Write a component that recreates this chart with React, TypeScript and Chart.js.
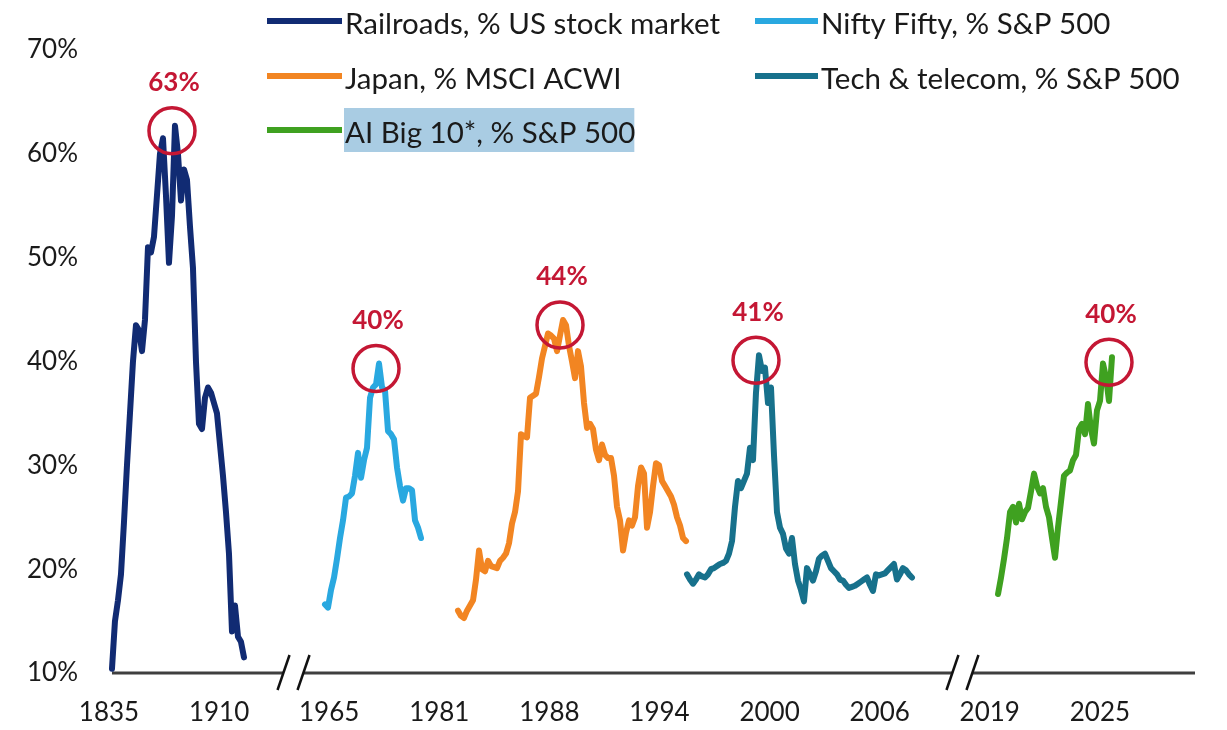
import React, { useEffect, useRef } from "react";
import { Chart, registerables } from "chart.js";

Chart.register(...registerables);

// ---- Data ----
const tickLabels = ["1835", "1910", "1965", "1981", "1988", "1994", "2000", "2006", "2019", "2025"];
const yTicks = [10, 20, 30, 40, 50, 60, 70];

const seriesNames = [
  "Railroads, % US stock market",
  "Nifty Fifty, % S&P 500",
  "Japan, % MSCI ACWI",
  "Tech & telecom, % S&P 500",
  "AI Big 10*, % S&P 500",
];
const seriesColors = ["#112B73", "#29A8E0", "#F28522", "#17718C", "#3FA120"];
const peakLabels = ["63%", "40%", "44%", "41%", "40%"];

const railroads = [
  10.4, 15.0, 17.0, 19.5, 24.5, 30, 35, 40, 43.5, 43, 41, 44, 51, 50.5, 52, 56, 60, 61.5, 56, 49.5,
  54, 62.7, 60, 55.5, 58.5, 57.5, 53, 49, 40, 34, 33.5, 36.5, 37.5, 37, 36, 35, 32, 29, 25.5, 21.5,
  14, 16.5, 13.5, 13, 11.5,
];
const niftyFifty = [
  16.6, 16.3, 18, 19.2, 21, 23, 24.7, 26.9, 27, 27.3, 29, 31.2, 28.8, 30.5, 31.7, 36.5, 37.5, 37.8,
  39.8, 37.5, 37.2, 33.3, 33, 32.5, 29.8, 28, 26.6, 27.8, 27.8, 27.6, 24.7, 24, 23,
];
const japan = [
  16, 15.5, 15.3, 16, 16.5, 17, 19, 21.8, 20, 19.8, 20.8, 20.3, 20.2, 20.1, 20.8, 21.1, 21.5, 22.5,
  24.4, 25.5, 27.5, 33, 32.8, 32.7, 36.5, 36.7, 36.9, 38.5, 40.3, 41.5, 42.7, 42.5, 42.2, 41, 42.5,
  44, 43.5, 41.5, 40, 38.4, 41, 39.5, 36, 33.6, 34, 33.5, 31.5, 30.5, 32, 31, 30.7, 30.7, 29, 26,
  24.7, 21.8, 23.5, 24.7, 24.2, 25, 28, 29.8, 29.2, 24, 25.5, 28, 30.2, 30, 28.5, 28, 27.5, 27,
  26.2, 25, 24.2, 23, 22.7,
];
const techTelecom = [
  19.5, 19, 18.6, 19, 19.5, 19.3, 19.2, 19.5, 20, 20.1, 20.3, 20.5, 20.6, 20.8, 21.5, 22.7, 26,
  28.5, 27.8, 28.5, 29.2, 31.7, 30.5, 37, 40.6, 39.1, 39.4, 36, 37.5, 31, 25.5, 24, 23.4, 22, 21.5,
  23, 20.5, 18.9, 18, 16.9, 20.1, 19.5, 18.9, 19.8, 21, 21.3, 21.5, 20.8, 20.1, 19.8, 19.5, 19,
  18.9, 18.5, 18.2, 18.3, 18.4, 18.6, 18.8, 19, 19.2, 18.5, 17.9, 19.5, 19.4, 19.5, 19.6, 19.9,
  20.2, 20.5, 19, 19.5, 20.1, 19.9, 19.5, 19.2,
];
const aiBig10 = [
  17.6, 19.2, 21, 23, 25.5, 26, 24.5, 26.3, 24.8, 25.5, 25.9, 27.5, 29.2, 28, 27.3, 27.8, 26, 25,
  23, 21.1, 24, 26.5, 29, 29.3, 29.5, 30.5, 31, 33.5, 34, 33, 35.9, 33.5, 32.1, 35.3, 36.2, 39.8,
  38.5, 36.2, 40.4,
];

// where each episode sits along the (broken) x-axis, in tick-index units
const railroadsSpan = [0.027, 1.226];
const niftyFiftySpan = [1.962, 2.834];
const japanSpan = [3.17, 5.241];
const techTelecomSpan = [5.25, 7.293];
const aiBig10Span = [8.075, 9.11];

const axisBreaks = [1.676, 7.752];
const axisStart = 0.027;
const xMax = 9.864;

const seriesValues = [railroads, niftyFifty, japan, techTelecom, aiBig10];
const seriesSpans = [railroadsSpan, niftyFiftySpan, japanSpan, techTelecomSpan, aiBig10Span];

const FONT = "Lato, 'Open Sans', sans-serif";
const RED = "#C41734";

function toPoints(values: number[], span: number[]) {
  const n = values.length;
  return values.map((y, i) => ({ x: span[0] + ((span[1] - span[0]) * i) / (n - 1), y }));
}

const decorPlugin = {
  id: "decor",
  beforeDatasetsDraw(chart: any) {
    const { ctx, chartArea, scales } = chart;
    const xs = scales.x;
    const ys = scales.y;
    const axisY = ys.getPixelForValue(10);
    const gaps = axisBreaks.map((b) => xs.getPixelForValue(b));
    ctx.save();
    ctx.strokeStyle = "#3f3f3f";
    ctx.lineWidth = 3;
    ctx.beginPath();
    let cur = xs.getPixelForValue(axisStart);
    for (const g of gaps) {
      ctx.moveTo(cur, axisY);
      ctx.lineTo(g - 10, axisY);
      cur = g + 10;
    }
    ctx.moveTo(cur, axisY);
    ctx.lineTo(chartArea.right, axisY);
    ctx.stroke();
    ctx.strokeStyle = "#111";
    ctx.lineWidth = 2.5;
    for (const g of gaps) {
      for (const d of [-10, 10]) {
        ctx.beginPath();
        ctx.moveTo(g + d - 6, axisY + 17);
        ctx.lineTo(g + d + 6, axisY - 18);
        ctx.stroke();
      }
    }
    ctx.restore();
  },
  afterDatasetsDraw(chart: any) {
    const { ctx } = chart;
    ctx.save();
    chart.data.datasets.forEach((ds: any, i: number) => {
      const meta = chart.getDatasetMeta(i);
      let best = 0;
      ds.data.forEach((p: any, j: number) => {
        if (p.y > ds.data[best].y) best = j;
      });
      const el = meta.data[best];
      const cx = el.x - 3;
      const cy = el.y + 5;
      ctx.strokeStyle = RED;
      ctx.lineWidth = 3.5;
      ctx.beginPath();
      ctx.arc(cx, cy, 23, 0, Math.PI * 2);
      ctx.stroke();
      ctx.fillStyle = RED;
      ctx.font = `bold 26px ${FONT}`;
      ctx.textAlign = "center";
      ctx.textBaseline = "middle";
      ctx.fillText(peakLabels[i], cx + 2, cy - 48);
    });
    ctx.restore();
  },
  afterDraw(chart: any) {
    const { ctx } = chart;
    const colX = [267, 755];
    const lineLen = [75, 63];
    const rowY = [21, 76, 130];
    ctx.save();
    ctx.font = `29.5px ${FONT}`;
    ctx.textBaseline = "middle";
    ctx.textAlign = "left";
    seriesNames.forEach((name, i) => {
      const c = i % 2;
      const r = Math.floor(i / 2);
      const x0 = colX[c];
      const y = rowY[r];
      const tx = x0 + lineLen[c] + 3;
      if (i === 4) {
        const w = ctx.measureText(name).width;
        ctx.fillStyle = "#A9CCE3";
        ctx.fillRect(tx - 1, y - 22, w, 44);
      }
      ctx.strokeStyle = seriesColors[i];
      ctx.lineWidth = 6;
      ctx.lineCap = "butt";
      ctx.beginPath();
      ctx.moveTo(x0, y);
      ctx.lineTo(x0 + lineLen[c], y);
      ctx.stroke();
      ctx.fillStyle = "#1a1a1a";
      ctx.fillText(name, tx, y + 3);
    });
    ctx.restore();
  },
};

export default function App() {
  const canvasRef = useRef<HTMLCanvasElement | null>(null);

  useEffect(() => {
    if (!canvasRef.current) return;
    const chart = new Chart(canvasRef.current, {
      type: "line",
      data: {
        datasets: seriesValues.map((vals, i) => ({
          label: seriesNames[i],
          data: toPoints(vals, seriesSpans[i]),
          borderColor: seriesColors[i],
          backgroundColor: seriesColors[i],
          borderWidth: 6,
          pointRadius: 0,
          tension: 0,
          fill: false,
          borderJoinStyle: "round" as const,
          borderCapStyle: "round" as const,
        })),
      },
      options: {
        animation: false,
        responsive: true,
        maintainAspectRatio: false,
        layout: { padding: { top: 50, right: 32, bottom: 0, left: 0 } },
        plugins: { legend: { display: false }, tooltip: { enabled: false } },
        scales: {
          x: {
            type: "linear",
            min: 0,
            max: xMax,
            afterBuildTicks: (s: any) => {
              s.ticks = tickLabels.map((_, i) => ({ value: i }));
            },
            afterFit: (s: any) => {
              s.height = 57;
            },
            ticks: {
              callback: (v: any) => tickLabels[Math.round(Number(v))] ?? "",
              autoSkip: false,
              maxRotation: 0,
              padding: 24,
              color: "#1a1a1a",
              font: { family: FONT, size: 26 },
            },
            grid: { display: false, drawTicks: false },
            border: { display: false },
          },
          y: {
            min: 10,
            max: 70,
            afterBuildTicks: (s: any) => {
              s.ticks = yTicks.map((v) => ({ value: v }));
            },
            afterFit: (s: any) => {
              s.width = 109;
            },
            ticks: {
              callback: (v: any) => `${v}%`,
              padding: 31,
              color: "#1a1a1a",
              font: { family: FONT, size: 26 },
            },
            grid: { display: false, drawTicks: false },
            border: { display: false },
          },
        },
      },
      plugins: [decorPlugin],
    });
    return () => chart.destroy();
  }, []);

  return (
    <div style={{ position: "absolute", left: 0, top: 0, width: 1227, height: 730, background: "#fff" }}>
      <canvas ref={canvasRef} />
    </div>
  );
}
